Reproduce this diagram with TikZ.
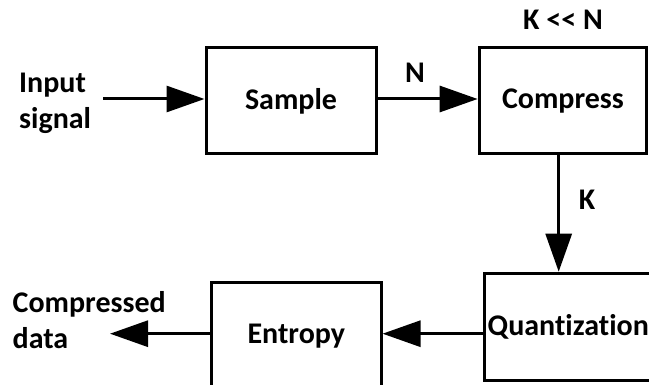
\documentclass[tikz,border=0pt]{standalone}
\usepackage{fontspec}
\setmainfont{Carlito}[Ligatures={TeX,NoCommon}]
\usetikzlibrary{arrows.meta}
\begin{document}
\begin{tikzpicture}[x=1pt,y=-1pt,
  every node/.style={font=\bfseries\fontsize{30}{36}\selectfont, inner sep=0pt},
  blockbox/.style={draw, line width=3pt, minimum width=#1, minimum height=106pt},
  flow/.style={line width=3pt, -{Triangle[length=38pt,width=26pt]}}]
\useasboundingbox (0,0) rectangle (649,385);
\clip (0,0) rectangle (649,385);
\node[blockbox=170pt] (sample) at (291,101) {Sample};
\node[blockbox=167.7pt] (compress) at (563,101) {Compress};
\node[blockbox=168pt, minimum height=107pt] (quant) at (568.3,326.7) {Quantization};
\node[blockbox=169.5pt, minimum height=106pt] (entropy) at (296.3,336) {Entropy};
\node[anchor=north west, align=left] (input) at (19,73) {Input\\signal};
\node[anchor=north west, align=left] (output) at (12.5,291) {Compressed\\data};
\node (nlab) at (415,73) {N};
\node (klab) at (587,200) {K};
\node (kn) at (563,20) {K <\kern0pt< N};
\coordinate (instart) at (103,99);
\coordinate (outend) at (110,333.7);
\draw[flow] (instart) -- (instart -| sample.west);
\draw[flow] (sample.east |- instart) -- (compress.west |- instart);
\draw[flow] (558.7,0 |- compress.south) -- (558.7,0 |- quant.north);
\draw[flow] (quant.west |- outend) -- (entropy.east |- outend);
\draw[flow] (entropy.west |- outend) -- (outend);
\end{tikzpicture}
\end{document}
